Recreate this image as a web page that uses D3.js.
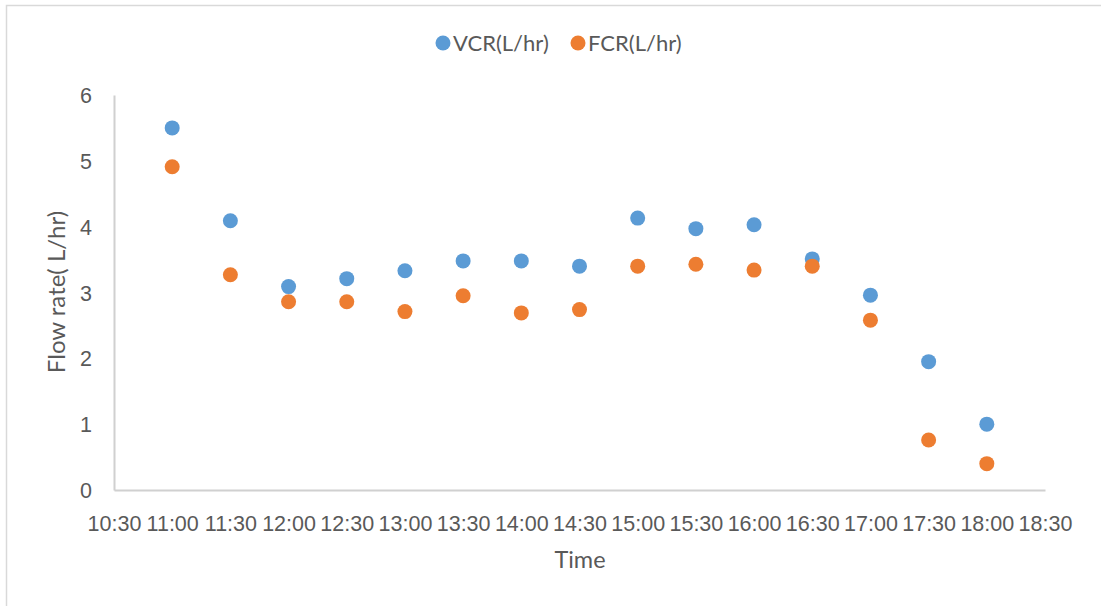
<!DOCTYPE html>
<html>
<head>
<meta charset="utf-8">
<script src="https://cdn.jsdelivr.net/npm/d3@7"></script>
<style>
  html, body { margin: 0; padding: 0; background: #fff; }
  svg { display: block; font-family: Lato, "Open Sans", sans-serif; }
</style>
</head>
<body>
<svg id="chart" width="1101" height="606"></svg>
<script>
// Sampling times (half-hourly) and measured flow rates
const times = ["11:00","11:30","12:00","12:30","13:00","13:30","14:00","14:30",
               "15:00","15:30","16:00","16:30","17:00","17:30","18:00"];
const vcr = [5.50, 4.09, 3.09, 3.21, 3.33, 3.48, 3.48, 3.40, 4.13, 3.97, 4.03, 3.51, 2.96, 1.95, 1.00];
const fcr = [4.91, 3.27, 2.86, 2.86, 2.71, 2.95, 2.69, 2.74, 3.40, 3.43, 3.34, 3.40, 2.58, 0.76, 0.40];
const xTickLabels = ["10:30","11:00","11:30","12:00","12:30","13:00","13:30","14:00","14:30",
                     "15:00","15:30","16:00","16:30","17:00","17:30","18:00","18:30"];
const yTicks = [0, 1, 2, 3, 4, 5, 6];
const seriesNames = ["VCR(L/hr)", "FCR(L/hr)"];
const seriesColors = ["#5B9BD5", "#ED7D31"];

const toMinutes = s => { const [h, m] = s.split(":").map(Number); return h * 60 + m; };

const svg = d3.select("#chart");
const textColor = "#595959";
const axisColor = "#d0d0d0";

// Chart frame
svg.append("rect")
  .attr("x", 6.5).attr("y", 5.5)
  .attr("width", 1200).attr("height", 700)
  .attr("fill", "none").attr("stroke", "#d9d9d9").attr("stroke-width", 1.5);

const x = d3.scaleLinear()
  .domain([toMinutes(xTickLabels[0]), toMinutes(xTickLabels[xTickLabels.length - 1])])
  .range([114, 1045]);
const y = d3.scaleLinear().domain([0, 6]).range([490, 95]);

// X axis
const xAxis = d3.axisBottom(x)
  .tickValues(xTickLabels.map(toMinutes))
  .tickFormat((d, i) => xTickLabels[i])
  .tickSize(0).tickPadding(0);
const gx = svg.append("g").attr("transform", `translate(0,${y(0)})`).call(xAxis);
gx.select(".domain").attr("stroke", axisColor).attr("stroke-width", 2);
gx.selectAll("text")
  .attr("fill", textColor).attr("font-size", 21.5)
  .attr("y", 33).attr("dy", "0.35em");

// Y axis
const yAxis = d3.axisLeft(y).tickValues(yTicks).tickFormat(d3.format("d")).tickSize(0).tickPadding(0);
const gy = svg.append("g").attr("transform", `translate(${x.range()[0]},0)`).call(yAxis);
gy.select(".domain").attr("stroke", axisColor).attr("stroke-width", 2);
gy.selectAll("text")
  .attr("fill", textColor).attr("font-size", 21.5)
  .attr("x", -22).attr("dy", "0.35em");

// Axis titles
svg.append("text")
  .attr("x", 580).attr("y", 560).attr("dy", "0.35em")
  .attr("text-anchor", "middle").attr("fill", textColor).attr("font-size", 23.5)
  .text("Time");
svg.append("text")
  .attr("transform", "translate(57,292) rotate(-90)")
  .attr("dy", "0.35em")
  .attr("text-anchor", "middle").attr("fill", textColor).attr("font-size", 24)
  .text("Flow rate( L/hr)");

// Scatter points
[vcr, fcr].forEach((vals, si) => {
  svg.append("g").selectAll("circle")
    .data(vals)
    .join("circle")
    .attr("cx", (d, i) => x(toMinutes(times[i])))
    .attr("cy", d => y(d))
    .attr("r", 7.5)
    .attr("fill", seriesColors[si]);
});

// Legend
const legendX = [443, 578];
const legend = svg.append("g");
seriesNames.forEach((name, i) => {
  legend.append("circle")
    .attr("cx", legendX[i]).attr("cy", 43).attr("r", 7.5)
    .attr("fill", seriesColors[i]);
  legend.append("text")
    .attr("x", legendX[i] + 10).attr("y", 43).attr("dy", "0.35em")
    .attr("fill", textColor).attr("font-size", 22)
    .text(name);
});
</script>
</body>
</html>
